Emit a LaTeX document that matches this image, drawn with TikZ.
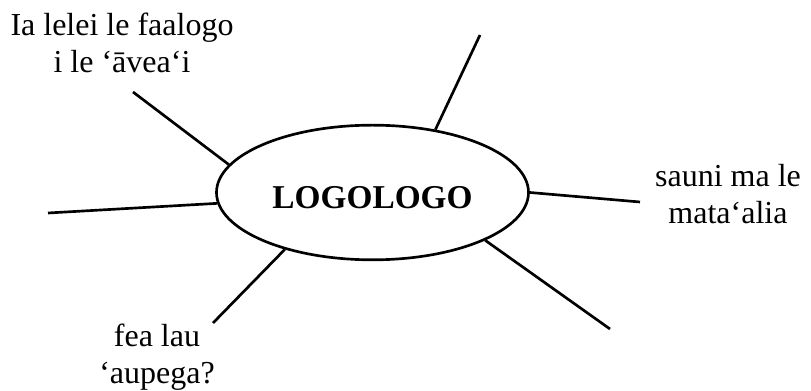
\documentclass[tikz,border=0pt]{standalone}
\usepackage{fontspec}
\setmainfont{Liberation Serif}
\usetikzlibrary{shapes.geometric}

\begin{document}
\begin{tikzpicture}[x=0.75pt,y=0.75pt,yscale=-1,xscale=1,
  spoke/.style={line width=2pt},
  idea/.style={anchor=north,inner sep=0pt,align=center,font=\fontsize{24}{27.75}\selectfont}]
\useasboundingbox (0,0) rectangle (811,391);

%Shape: Ellipse
\node [ellipse,draw,line width=2pt,minimum width=234pt,minimum height=101pt,inner sep=0pt,
  text height=24pt,font=\fontsize{25}{27.75}\selectfont\bfseries] (topic) at (372.5,192.5) {LOGOLOGO};

% Text Node
\node [idea] (listen) at (122,13) {Ia lelei le faalogo\\i le ‘āvea‘i};
% Text Node
\node [idea] (ready) at (728,164) {sauni ma le\\mata‘alia};
% Text Node
\node [idea] (net) at (157,324) {fea lau\\‘aupega?};

%free ends
\coordinate (endlisten) at (133,92);
\coordinate (endup) at (480,35);
\coordinate (endready) at (640,202);
\coordinate (enddown) at (610,329);
\coordinate (endnet) at (213,323);
\coordinate (endleft) at (48,213);

%Straight Lines
\draw [spoke] (topic.169) -- (endlisten) ;
\draw [spoke] (topic.45) -- (endup) ;
\draw [spoke] (topic.0) -- (endready) ;
\draw [spoke] (topic.-23) -- (enddown) ;
\draw [spoke] (topic.-147.6) -- (endnet) ;
\draw [spoke] (topic.184) -- (endleft) ;

\end{tikzpicture}
\end{document}
